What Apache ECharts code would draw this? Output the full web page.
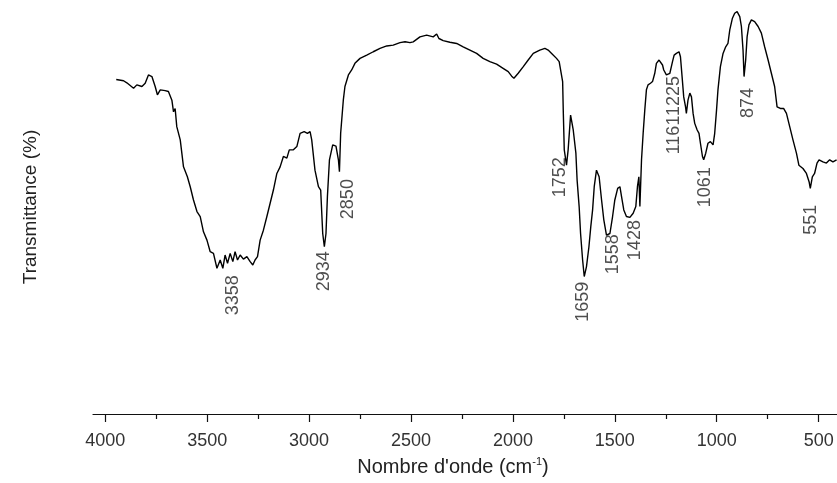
<!DOCTYPE html>
<html><head><meta charset="utf-8">
<script src="https://cdn.jsdelivr.net/npm/echarts@6/dist/echarts.min.js"></script>
<style>html,body{margin:0;padding:0;background:#fff}#c{width:837px;height:483px}</style>
</head><body><div id="c"></div>
<script>
// FTIR spectrum, x = wavenumber (cm-1), y = transmittance (%)
const wavenumber = [3946,3910,3894,3861,3845,3820,3804,3788,3771,3755,3744,3730,3706,3690,3673,3665,3657,3649,3632,3616,3597,3583,3567,3550,3534,3518,3501,3485,3469,3452,3445,3436,3423,3412,3400,3387,3374,3363,3351,3338,3322,3305,3289,3276,3265,3253,3240,3224,3207,3191,3175,3158,3142,3126,3109,3097,3077,3060,3044,3024,3008,2995,2987,2971,2954,2943,2933,2925,2917,2910,2900,2884,2868,2856,2851,2845,2832,2824,2807,2791,2775,2750,2717,2685,2652,2619,2587,2554,2529,2505,2489,2456,2423,2391,2374,2363,2342,2309,2276,2244,2211,2178,2146,2113,2080,2048,2023,2006,1995,1974,1949,1925,1900,1868,1843,1827,1810,1786,1773,1766,1756,1753,1748,1737,1729,1717,1704,1691,1685,1675,1668,1658,1650,1639,1627,1618,1609,1601,1590,1577,1565,1554,1541,1524,1511,1500,1486,1475,1467,1456,1443,1426,1410,1397,1389,1382,1377,1369,1361,1353,1345,1337,1325,1315,1304,1296,1283,1276,1266,1260,1247,1230,1217,1209,1198,1185,1178,1170,1162,1153,1149,1141,1132,1124,1116,1108,1096,1087,1080,1070,1064,1054,1043,1031,1018,1010,1001,994,982,969,956,945,936,923,912,900,887,879,871,866,858,851,842,830,814,797,781,765,748,732,716,704,688,672,658,642,626,609,597,577,560,547,541,531,520,508,498,479,462,446,430,412];
const transmittance = [80.8,80.5,80.0,78.7,79.5,79.1,79.9,81.9,81.5,79.1,77.1,78.3,78.1,77.9,75.8,73.0,73.8,69.4,66.2,59.7,57.3,54.9,51.7,48.9,47.7,44.0,42.0,39.2,38.8,35.2,34.8,37.2,35.2,38.4,36.4,38.8,36.8,39.2,37.2,38.4,37.4,38.0,36.8,36.0,37.2,38.0,42.0,44.4,47.7,50.9,54.1,58.1,59.7,62.2,61.8,63.8,63.8,64.6,67.8,68.2,67.8,68.2,66.2,58.9,54.9,54.1,43.6,40.4,43.6,52.5,61.4,65.0,64.7,61.4,58.5,67.8,75.8,79.1,81.9,83.1,84.7,85.9,86.7,87.5,88.3,88.9,89.1,89.7,89.9,89.7,89.9,91.1,91.5,91.1,91.8,90.7,90.2,89.8,89.5,88.7,87.9,87.1,85.9,85.1,84.5,83.5,82.7,81.6,81.1,82.3,83.9,85.5,87.1,87.9,88.3,87.9,87.1,85.9,85.1,83.1,80.3,73.4,63.8,60.1,63.8,72.2,68.6,63.0,56.5,50.1,43.6,37.2,33.2,35.6,40.4,45.2,49.3,54.9,58.9,57.3,51.7,46.9,43.2,43.6,47.7,51.7,54.5,54.9,52.5,49.3,47.7,47.5,48.5,50.1,54.9,57.3,50.1,61.4,67.8,73.4,78.3,79.5,79.9,80.3,82.3,84.7,85.5,85.9,84.3,83.1,81.9,82.3,85.1,86.7,87.1,87.5,86.3,81.5,76.6,74.2,72.6,75.8,77.5,76.6,72.6,70.2,68.6,67.8,65.4,62.2,61.4,63.0,65.4,65.8,65.0,67.8,73.4,78.3,83.9,87.1,88.7,89.5,92.8,95.6,96.8,97.2,96.0,93.6,87.9,81.5,85.5,91.1,94.0,95.2,94.8,93.6,92.0,88.7,85.5,82.3,79.1,74.2,73.8,73.8,72.6,69.4,66.2,63.0,60.1,59.3,58.1,56.1,54.5,57.3,58.1,60.6,61.4,60.9,60.6,61.4,60.9,61.4];

const majorTicks = [4000,3500,3000,2500,2000,1500,1000,500];
const minorTicks = [3750,3250,2750,2250,1750,1250,750];

// peak annotations: text, and where the text sits (wavenumber, transmittance)
const peakNames = ['3358','2934','2850','1752','1659','1558','1428','1225','1161','1061','874','551'];
const peakLabelX = [3373,2925,2809,1770,1655,1510,1399,1211,1211,1059,848,539];
const peakLabelY = [28.7,34.5,51.9,57.2,27.1,38.6,42.0,76.8,67.4,54.8,75.1,46.9];

const xTitle = "Nombre d'onde (cm{sup|-1})";
const yTitle = 'Transmittance (%)';

const chart = echarts.init(document.getElementById('c'), null, {renderer: 'canvas'});
const FONT = 'Liberation Sans, Arial, sans-serif';
const spectrum = wavenumber.map((v, i) => [v, transmittance[i]]);
const peaks = peakNames.map((n, i) => ({value: [peakLabelX[i], peakLabelY[i]], name: n}));

chart.setOption({
  animation: false,
  backgroundColor: '#fff',
  grid: {left: 93, right: 0, top: 0, bottom: 69, containLabel: false, outerBoundsMode: 'none'},
  xAxis: [{
    type: 'value', inverse: true, min: 410, max: 4060, position: 'bottom',
    name: xTitle, nameLocation: 'middle', nameGap: 42,
    nameTextStyle: {fontFamily: FONT, fontSize: 20, color: '#222', padding: [0, 24, 0, 0],
      rich: {sup: {fontFamily: FONT, fontSize: 11, color: '#222', padding: [0, 0, 11, 0]}}},
    axisLine: {show: true, lineStyle: {color: '#111', width: 1.2}},
    axisTick: {show: true, inside: false, length: 8, customValues: majorTicks, lineStyle: {color: '#111', width: 1.2}},
    axisLabel: {show: true, customValues: majorTicks, margin: 18, fontFamily: FONT, fontSize: 18, color: '#333',
      formatter: v => String(v)},
    splitLine: {show: false}, minorTick: {show: false}
  }, {
    type: 'value', inverse: true, min: 410, max: 4060, position: 'bottom', gridIndex: 0,
    axisLine: {show: false},
    axisTick: {show: true, inside: false, length: 5, customValues: minorTicks, lineStyle: {color: '#111', width: 1.2}},
    axisLabel: {show: false}, splitLine: {show: false}
  }],
  yAxis: {
    type: 'value', min: 0, max: 100,
    name: yTitle, nameLocation: 'middle', nameGap: 53, nameRotate: 90,
    nameTextStyle: {fontFamily: FONT, fontSize: 19, color: '#222'},
    axisLine: {show: false}, axisTick: {show: false}, axisLabel: {show: false}, splitLine: {show: false}
  },
  series: [{
    type: 'line', xAxisIndex: 0, data: spectrum, showSymbol: false, symbol: 'none',
    lineStyle: {color: '#000', width: 1.4}, silent: true
  }, {
    type: 'scatter', xAxisIndex: 0, data: peaks, symbolSize: 0, silent: true, z: 5,
    label: {show: true, position: 'inside', rotate: 90, formatter: p => p.name,
      fontFamily: FONT, fontSize: 18, color: '#222'}
  }]
});
</script></body></html>
